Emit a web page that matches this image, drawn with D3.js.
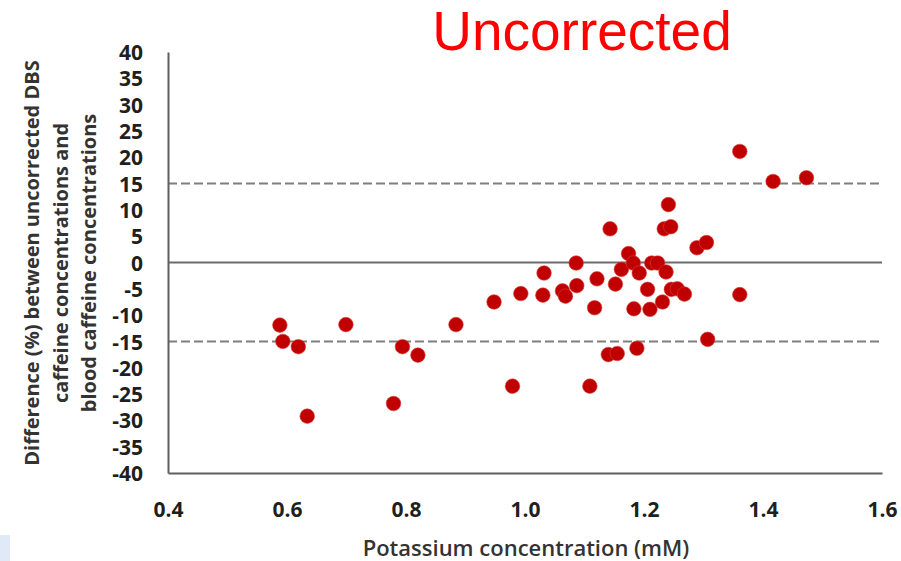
<!DOCTYPE html>
<html><head><meta charset="utf-8">
<script src="https://cdn.jsdelivr.net/npm/d3@7"></script>
<style>body{margin:0;background:#fff}svg{display:block}</style>
</head><body>
<svg id="c" width="901" height="561"></svg>
<script>
const potassium = [0.588,0.593,0.619,0.634,0.699,0.779,0.794,0.820,0.884,0.948,0.979,0.993,1.030,1.032,1.063,1.068,1.086,1.087,1.109,1.117,1.121,1.140,1.143,1.152,1.155,1.162,1.174,1.182,1.183,1.188,1.192,1.206,1.210,1.213,1.223,1.231,1.234,1.237,1.241,1.245,1.246,1.256,1.268,1.289,1.305,1.307,1.361,1.361,1.417,1.473];
const difference = [-11.9,-15.0,-16.0,-29.2,-11.8,-26.8,-16.0,-17.6,-11.8,-7.5,-23.5,-5.9,-6.2,-2.0,-5.4,-6.4,-0.1,-4.4,-23.5,-8.6,-3.1,-17.5,6.4,-4.1,-17.3,-1.3,1.7,-0.1,-8.8,-16.3,-2.0,-5.1,-8.9,-0.1,-0.1,-7.5,6.4,-1.8,11.0,6.8,-5.1,-5.0,-6.0,2.8,3.8,-14.6,21.1,-6.1,15.4,16.1];
const xTicks = [0.4,0.6,0.8,1.0,1.2,1.4,1.6];
const yTicks = [40,35,30,25,20,15,10,5,0,-5,-10,-15,-20,-25,-30,-35,-40];
const limits = [15,-15];
const title = "Uncorrected";
const xTitle = "Potassium concentration (mM)";
const yTitle = ["Difference (%) between uncorrected DBS","caffeine concentrations and","blood caffeine concentrations"];

const svg = d3.select("#c");
const x = d3.scaleLinear().domain([0.4,1.6]).range([168,882]);
const y = d3.scaleLinear().domain([-40,40]).range([473,52]);
const tickFont = "'Open Sans', sans-serif";

// faint slide artifact bottom-left
svg.append("rect").attr("x",0).attr("y",535).attr("width",10).attr("height",26).attr("fill","#dfeaf6");

// title
svg.append("text").attr("x",582).attr("y",50).attr("text-anchor","middle")
  .attr("font-family","'Liberation Sans', Arial, sans-serif").attr("font-size",55)
  .attr("fill","#ff0000").text(title);

// dashed limits
svg.selectAll("line.lim").data(limits).join("line").attr("class","lim")
  .attr("x1",x(0.4)).attr("x2",x(1.6)).attr("y1",d=>y(d)).attr("y2",d=>y(d))
  .attr("stroke","#7f7f7f").attr("stroke-width",2).attr("stroke-dasharray","9,4");

// zero line
svg.append("line").attr("x1",x(0.4)).attr("x2",x(1.6)).attr("y1",y(0)).attr("y2",y(0))
  .attr("stroke","#6b6b6b").attr("stroke-width",2);

// axes
const hy = v => String(v).replace("\u2212","-");
const yAxis = d3.axisLeft(y).tickValues(yTicks).tickSize(0).tickPadding(25).tickFormat(d=>hy(d3.format("d")(d)).replace("−","-"));
const gy = svg.append("g").attr("transform",`translate(${x(0.4)},0)`).call(yAxis);
const xAxis = d3.axisBottom(x).tickValues(xTicks).tickSize(0).tickPadding(29).tickFormat(d3.format(".1f"));
const gx = svg.append("g").attr("transform",`translate(0,${y(-40)})`).call(xAxis);
[gx,gy].forEach(g=>{
  g.select(".domain").attr("stroke","#5f5f5f").attr("stroke-width",2);
  g.selectAll("text").attr("font-family",tickFont).attr("font-weight","bold")
    .attr("font-size",21).attr("fill","#1f1f1f");
});
gy.selectAll("text").attr("dy","0.36em");

// points
svg.append("g").selectAll("circle").data(potassium.map((k,i)=>[k,difference[i]])).join("circle")
  .attr("cx",d=>x(d[0])).attr("cy",d=>y(d[1])).attr("r",7.3)
  .attr("fill","#c00000").attr("stroke","#d84040").attr("stroke-width",0.6);

// axis titles
svg.append("text").attr("x",526).attr("y",556).attr("text-anchor","middle")
  .attr("font-family",tickFont).attr("font-weight",600).attr("font-size",22)
  .attr("fill","#333333").text(xTitle);

const yt = svg.append("text").attr("transform","translate(0,263) rotate(-90)")
  .attr("text-anchor","middle").attr("font-family",tickFont).attr("font-weight","bold")
  .attr("font-size",20).attr("fill","#333333");
yTitle.forEach((t,i)=>yt.append("tspan").attr("x",0).attr("y",39+i*28.5).text(t));
</script>
</body></html>
